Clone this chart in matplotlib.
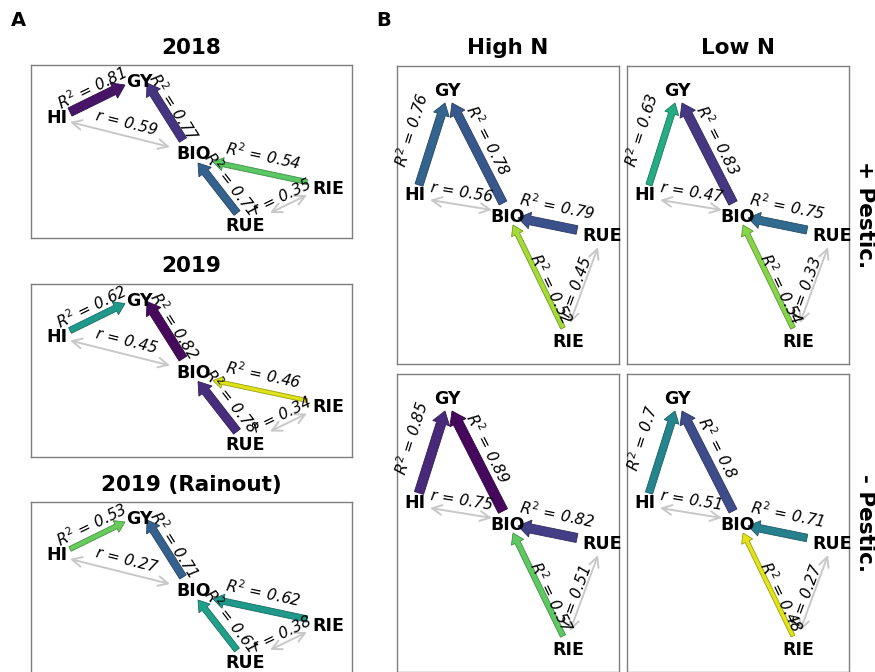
import numpy as np
import matplotlib.pyplot as plt
from matplotlib import patches, colors

# path coefficients (R^2 for directed paths, r for correlations)
years = ['2018', '2019', '2019 (Rainout)']
r2_hi_gy_A = [0.81, 0.62, 0.53]
r2_bio_gy_A = [0.77, 0.82, 0.71]
r2_rie_bio_A = [0.54, 0.46, 0.62]
r2_rue_bio_A = [0.71, 0.78, 0.61]
r_hi_bio_A = [0.59, 0.45, 0.27]
r_rue_rie_A = [0.35, 0.34, 0.38]

nitrogen = ['High N', 'Low N']
pesticide = ['+ Pestic.', '- Pestic.']
# order: (+P, High N), (+P, Low N), (-P, High N), (-P, Low N)
r2_hi_gy_B = [0.76, 0.63, 0.85, 0.7]
r2_bio_gy_B = [0.78, 0.83, 0.89, 0.8]
r2_rue_bio_B = [0.79, 0.75, 0.82, 0.71]
r2_rie_bio_B = [0.52, 0.54, 0.57, 0.48]
r_hi_bio_B = [0.56, 0.47, 0.75, 0.51]
r_rue_rie_B = [0.45, 0.33, 0.51, 0.27]

W, H = 875, 672

# node / edge geometry inside a box, in pixels from the box's top-left corner
# edge: (start, end, label centre)
layout_A = {
    'nodes': {'HI': (26, 53), 'GY': (108, 17), 'BIO': (163, 89),
              'RIE': (297, 124), 'RUE': (214, 161)},
    'HI>GY': ((39, 47), (94, 20), (61, 23)),
    'BIO>GY': ((152, 75), (116, 18), (143, 42)),
    'RIE>BIO': ((276, 117), (182, 97), (232, 91)),
    'RUE>BIO': ((206, 148), (167, 98), (200, 118)),
    'HI-BIO': ((39, 57), (139, 82), (96, 58)),
    'RUE-RIE': ((239, 148), (276, 130), (251, 132)),
}
layout_B = {
    'nodes': {'GY': (50, 25), 'HI': (18, 129), 'BIO': (111, 151),
              'RUE': (205, 170), 'RIE': (171, 276)},
    'HI>GY': ((22, 119), (48, 37), (15, 64)),
    'BIO>GY': ((106, 137), (55, 37), (91, 74)),
    'RUE>BIO': ((180, 164), (121, 152), (160, 140)),
    'RIE>BIO': ((166, 262), (116, 159), (154, 223)),
    'HI-BIO': ((33, 134), (95, 144), (65, 127)),
    'RUE-RIE': ((201, 181), (173, 257), (180, 221)),
}

fig = plt.figure(figsize=(W / 100, H / 100), dpi=100)
cmap = plt.get_cmap('viridis_r')


def box_axes(x, y, w, h):
    ax = fig.add_axes([x / W, 1 - (y + h) / H, w / W, h / H])
    ax.set_xlim(0, w)
    ax.set_ylim(h, 0)
    ax.set_xticks([])
    ax.set_yticks([])
    for s in ax.spines.values():
        s.set_color('#7f7f7f')
        s.set_linewidth(1.0)
    return ax


def text_angle(p0, p1):
    ang = np.degrees(np.arctan2(-(p1[1] - p0[1]), p1[0] - p0[0]))
    if ang > 90:
        ang -= 180
    if ang < -90:
        ang += 180
    return ang


def draw_path(ax, lay, r2, r, norm):
    # directed paths, width and colour follow R^2
    for key, val in r2.items():
        p0, p1, lp = lay[key]
        c = cmap(norm(val))
        w = 14.3 * (val - 0.18)
        dx, dy = p1[0] - p0[0], p1[1] - p0[1]
        edge = tuple(np.array(colors.to_rgb(c)) * 0.7)
        ax.add_patch(patches.FancyArrow(p0[0], p0[1], dx, dy, width=w,
                                        head_width=w + 8, head_length=0.6 * w + 7,
                                        length_includes_head=True, fc=c, ec=edge,
                                        lw=0.6, zorder=2))
        ax.text(lp[0], lp[1], r'$R^2$ = %g' % val, fontsize=11, style='italic',
                rotation=text_angle(p0, p1), rotation_mode='anchor',
                ha='center', va='center', zorder=4)
    # correlations, grey double arrows
    for key, val in r.items():
        p0, p1, lp = lay[key]
        ax.annotate('', xy=p1, xytext=p0,
                    arrowprops=dict(arrowstyle='<->,head_length=0.7,head_width=0.35',
                                    color='#c8c8c8', lw=1.4, shrinkA=0, shrinkB=0),
                    zorder=1)
        ax.text(lp[0], lp[1], 'r = %g' % val, fontsize=11, style='italic',
                rotation=text_angle(p0, p1), rotation_mode='anchor',
                ha='center', va='center', zorder=4)
    for name, (x, y) in lay['nodes'].items():
        ax.text(x, y, name, fontsize=12.5, fontweight='bold', ha='center',
                va='center', zorder=5)


# A: one box per season
allA = r2_hi_gy_A + r2_bio_gy_A + r2_rie_bio_A + r2_rue_bio_A
normA = colors.Normalize(min(allA) - 0.02, max(allA) + 0.01)
for i, yr in enumerate(years):
    bx, by, bw, bh = 31, 65 + i * 218.5, 321, 173
    ax = box_axes(bx, by, bw, bh)
    draw_path(ax, layout_A,
              {'HI>GY': r2_hi_gy_A[i], 'BIO>GY': r2_bio_gy_A[i],
               'RIE>BIO': r2_rie_bio_A[i], 'RUE>BIO': r2_rue_bio_A[i]},
              {'HI-BIO': r_hi_bio_A[i], 'RUE-RIE': r_rue_rie_A[i]}, normA)
    fig.text((bx + bw / 2) / W, 1 - (by - 17) / H, yr, fontsize=15.5,
             fontweight='bold', ha='center', va='center')

# B: nitrogen x pesticide grid
allB = r2_hi_gy_B + r2_bio_gy_B + r2_rue_bio_B + r2_rie_bio_B
normB = colors.Normalize(min(allB) - 0.02, max(allB) + 0.01)
for i in range(4):
    row, col = i // 2, i % 2
    bx, by, bw, bh = 397 + col * 230, 66 + row * 308, 222, 298
    ax = box_axes(bx, by, bw, bh)
    draw_path(ax, layout_B,
              {'HI>GY': r2_hi_gy_B[i], 'BIO>GY': r2_bio_gy_B[i],
               'RUE>BIO': r2_rue_bio_B[i], 'RIE>BIO': r2_rie_bio_B[i]},
              {'HI-BIO': r_hi_bio_B[i], 'RUE-RIE': r_rue_rie_B[i]}, normB)
    if row == 0:
        fig.text((bx + bw / 2) / W, 1 - 48 / H, nitrogen[col], fontsize=15.5,
                 fontweight='bold', ha='center', va='center')
    if col == 1:
        fig.text(865 / W, 1 - (by + bh / 2) / H, pesticide[row], fontsize=15.5,
                 fontweight='bold', rotation=-90, ha='center', va='center')

fig.text(18 / W, 1 - 20 / H, 'A', fontsize=14, fontweight='bold', ha='center', va='center')
fig.text(384 / W, 1 - 20 / H, 'B', fontsize=14, fontweight='bold', ha='center', va='center')

fig.savefig('out.png', dpi=100, facecolor='white')
